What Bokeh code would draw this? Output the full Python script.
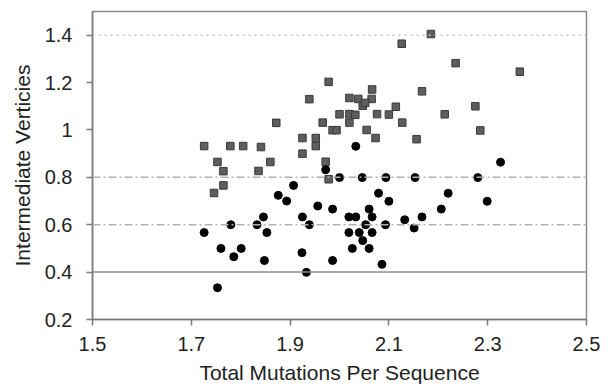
from bokeh.plotting import figure
from bokeh.models import Range1d, FixedTicker, Span, ColumnDataSource
from bokeh.embed import file_html
from bokeh.resources import INLINE

# Series: squares (upper group)
sq_x = [1.726, 1.753, 1.765, 1.779, 1.805, 1.841, 1.836, 1.860, 1.872, 1.925,
        1.925, 1.939, 1.952, 1.952, 1.966, 1.972, 1.978, 1.986, 1.994, 2.000,
        1.746, 1.765, 1.978, 2.020, 2.038, 2.066, 2.065, 2.047, 2.052, 2.114,
        2.020, 2.032, 2.076, 2.100, 2.020, 2.127, 2.055, 2.073, 2.156, 2.126,
        2.185, 2.235, 2.365, 2.167, 2.275, 2.213, 2.285]
sq_y = [0.932, 0.865, 0.826, 0.932, 0.932, 0.928, 0.827, 0.865, 1.030, 0.966,
        0.900, 1.130, 0.966, 0.932, 1.031, 0.866, 1.203, 0.999, 0.999, 1.066,
        0.734, 0.766, 0.792, 1.135, 1.131, 1.171, 1.131, 1.102, 1.114, 1.098,
        1.067, 1.064, 1.067, 1.065, 1.031, 1.031, 1.000, 0.966, 0.961, 1.364,
        1.405, 1.282, 1.246, 1.163, 1.100, 1.066, 0.998]

# Series: circles (lower group)
ci_x = [1.726, 1.753, 1.760, 1.780, 1.786, 1.801, 1.833, 1.846, 1.853, 1.848,
        1.876, 1.893, 1.907, 1.925, 1.939, 1.924, 1.933, 1.956, 1.972, 1.986,
        1.986, 2.000, 2.033, 2.046, 2.094, 2.153, 2.280, 2.326, 2.079, 2.100,
        2.220, 2.206, 2.299, 2.019, 2.033, 2.060, 2.066, 2.053, 2.093, 2.132,
        2.151, 2.167, 2.019, 2.040, 2.066, 2.047, 2.026, 2.060, 2.086]
ci_y = [0.567, 0.334, 0.500, 0.600, 0.465, 0.500, 0.600, 0.633, 0.567, 0.449,
        0.724, 0.700, 0.766, 0.633, 0.600, 0.482, 0.399, 0.679, 0.832, 0.666,
        0.449, 0.799, 0.931, 0.799, 0.799, 0.799, 0.799, 0.864, 0.733, 0.699,
        0.733, 0.666, 0.699, 0.633, 0.633, 0.666, 0.633, 0.600, 0.600, 0.621,
        0.586, 0.633, 0.567, 0.567, 0.567, 0.533, 0.500, 0.500, 0.433]

x_ticks = [1.5, 1.7, 1.9, 2.1, 2.3, 2.5]
y_ticks = [0.2, 0.4, 0.6, 0.8, 1.0, 1.2, 1.4]
y_tick_labels = {0.2: "0.2", 0.4: "0.4", 0.6: "0.6", 0.8: "0.8", 1.0: "1", 1.2: "1.2", 1.4: "1.4"}
x_title = "Total Mutations Per Sequence"
y_title = "Intermediate Verticies"

# visible reference lines
solid_lines = [0.4]
dashdot_lines = [0.6, 0.8]
dotted_lines = [1.4]

FONT = "Liberation Sans"

p = figure(width=612, height=390, output_backend="svg", toolbar_location=None,
           x_range=Range1d(1.5, 2.5), y_range=Range1d(0.2, 1.5),
           min_border_left=92, min_border_top=11, min_border_right=26, min_border_bottom=71)
p.background_fill_color = "white"
p.border_fill_color = "white"
p.outline_line_color = "#8a8a8a"
p.outline_line_width = 1.5

p.xgrid.grid_line_color = None
p.ygrid.grid_line_color = None

for v in solid_lines:
    p.add_layout(Span(location=v, dimension="width", line_color="#8c8c8c", line_width=1.5))
for v in dashdot_lines:
    p.add_layout(Span(location=v, dimension="width", line_color="#b0b0b0", line_width=1.5,
                      line_dash="8 3 2 3"))
for v in dotted_lines:
    p.add_layout(Span(location=v, dimension="width", line_color="#c0c0c0", line_width=1.5,
                      line_dash="2 4"))

src_sq = ColumnDataSource(dict(x=sq_x, y=sq_y))
src_ci = ColumnDataSource(dict(x=ci_x, y=ci_y))
p.scatter("x", "y", source=src_sq, marker="square", size=7.5,
          fill_color="#5e5e5e", line_color="#3a3a3a", line_width=1)
p.scatter("x", "y", source=src_ci, marker="circle", size=8,
          fill_color="#000000", line_color="#000000")

for ax in (p.xaxis[0], p.yaxis[0]):
    ax.axis_line_color = "#7a7a7a"
    ax.axis_line_width = 1.5
    ax.major_tick_line_color = "#7a7a7a"
    ax.major_tick_line_width = 1.5
    ax.major_tick_out = 6
    ax.major_tick_in = 0
    ax.minor_tick_line_color = None
    ax.major_label_text_font = FONT
    ax.major_label_text_font_size = "20px"
    ax.major_label_text_color = "#222222"
    ax.axis_label_text_font = FONT
    ax.axis_label_text_font_size = "21px"
    ax.axis_label_text_font_style = "normal"
    ax.axis_label_text_color = "#222222"

p.xaxis.ticker = FixedTicker(ticks=x_ticks)
p.yaxis.ticker = FixedTicker(ticks=y_ticks)
p.yaxis.major_label_overrides = y_tick_labels
p.xaxis.axis_label = x_title
p.yaxis.axis_label = y_title
p.xaxis.major_label_standoff = 11
p.yaxis.major_label_standoff = 14
p.xaxis.axis_label_standoff = 7
p.yaxis.axis_label_standoff = 8

open("out.html", "w").write(file_html(p, INLINE))
